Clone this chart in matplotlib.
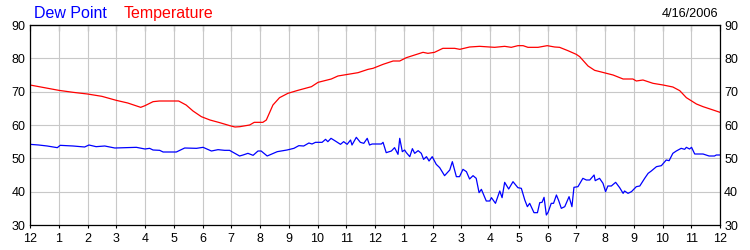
import matplotlib
matplotlib.use('Agg')
import matplotlib.pyplot as plt

plt.rcParams['font.family'] = ['Liberation Sans', 'DejaVu Sans']

# hours since midnight, degrees F
temp_hours = [0, 0.5, 1.0, 1.5, 2.0, 2.5, 3.0, 3.4, 3.85, 4.0, 4.28, 4.5, 5.17, 5.43, 5.67,
              5.96, 6.26, 6.6, 6.95, 7.13, 7.3, 7.64, 7.8, 8.1, 8.22, 8.45, 8.68, 8.97, 9.32,
              9.79, 10.02, 10.48, 10.71, 11.06, 11.41, 11.76, 11.93, 12.28, 12.63, 12.86, 13.09,
              13.38, 13.67, 13.84, 14.07, 14.36, 14.77, 14.95, 15.29, 15.64, 16.16, 16.51, 16.74,
              16.97, 17.15, 17.32, 17.67, 17.99, 18.25, 18.42, 18.71, 19.0, 19.12, 19.41, 19.64,
              19.87, 20.28, 20.63, 20.97, 21.09, 21.32, 21.67, 22.02, 22.36, 22.6, 22.83, 23.18,
              23.41, 23.76, 24.0]
temp_vals = [72.0, 71.2, 70.4, 69.8, 69.3, 68.6, 67.4, 66.6, 65.3, 65.8, 67.0, 67.2, 67.2, 66.0, 64.2,
             62.5, 61.5, 60.7, 59.8, 59.4, 59.5, 60.0, 60.8, 60.8, 61.5, 66.0, 68.2, 69.5, 70.4,
             71.5, 72.8, 73.8, 74.7, 75.2, 75.7, 76.7, 77.0, 78.2, 79.2, 79.2, 80.2,
             81.0, 81.8, 81.5, 81.8, 83.0, 83.0, 82.7, 83.4, 83.6, 83.3, 83.6, 83.3,
             83.8, 83.8, 83.3, 83.3, 83.8, 83.4, 83.3, 82.3, 81.2, 80.5, 77.7, 76.4,
             75.9, 75.0, 73.8, 73.8, 73.2, 73.5, 72.5, 72.0, 71.4, 70.3, 68.2, 66.3,
             65.5, 64.5, 63.8]

dew_hours = [0, 0.3, 0.6, 0.95, 1.05, 1.5, 1.9, 2.05, 2.3, 2.6, 2.95, 3.3, 3.7, 4.0, 4.16, 4.28,
             4.51, 4.63, 5.09, 5.38, 5.79, 6.02, 6.31, 6.54, 6.77, 6.94, 7.29, 7.41, 7.58, 7.76,
             7.93, 8.04, 8.25, 8.6, 8.94, 9.18, 9.35, 9.52, 9.7, 9.81, 9.93, 10.16, 10.28, 10.36,
             10.47, 10.62, 10.8, 10.91, 11.03, 11.15, 11.2, 11.35, 11.49, 11.61, 11.73, 11.81,
             11.9, 12.22, 12.28, 12.39, 12.57, 12.68, 12.8, 12.86, 12.95, 13.03, 13.09, 13.21,
             13.3, 13.38, 13.5, 13.61, 13.69, 13.79, 13.88, 13.99, 14.13, 14.25, 14.42, 14.6,
             14.69, 14.83, 14.94, 15.06, 15.18, 15.29, 15.41, 15.52, 15.62, 15.7, 15.87, 15.99,
             16.05, 16.19, 16.34, 16.42, 16.51, 16.65, 16.8, 16.97, 17.09, 17.21, 17.3, 17.38,
             17.53, 17.65, 17.73, 17.81, 17.88, 17.96, 18.02, 18.13, 18.21, 18.31, 18.39, 18.48,
             18.6, 18.75, 18.85, 18.92, 19.06, 19.23, 19.35, 19.47, 19.62, 19.66, 19.81, 19.93,
             20.02, 20.1, 20.22, 20.37, 20.51, 20.63, 20.68, 20.8, 20.92, 21.09, 21.21, 21.38,
             21.5, 21.61, 21.79, 21.96, 22.13, 22.23, 22.36, 22.48, 22.65, 22.77, 22.83, 22.94,
             23.01, 23.12, 23.41, 23.62, 23.81, 23.87, 24.0]
dew_vals = [54.2, 54.0, 53.7, 53.2, 53.9, 53.7, 53.4, 54.0, 53.5, 53.7, 53.1, 53.2, 53.3, 52.8, 53.0, 52.5,
            52.4, 51.9, 51.9, 53.1, 53.0, 53.3, 52.2, 52.6, 52.4, 52.4, 50.7, 51.0, 51.5, 50.9,
            52.2, 52.2, 50.7, 52.0, 52.5, 53.0, 53.8, 53.7, 54.6, 54.3, 54.8, 54.8, 55.7, 55.0,
            56.0, 55.2, 54.2, 55.0, 54.2, 55.5, 54.0, 56.3, 54.8, 54.5, 56.0, 54.0,
            54.3, 54.3, 54.8, 51.7, 52.2, 53.2, 51.2, 56.0, 52.0, 52.5, 51.7, 50.5,
            52.9, 51.5, 52.3, 51.5, 49.7, 50.5, 49.2, 50.5, 48.2, 47.2, 44.8, 46.5,
            49.0, 44.5, 44.5, 46.7, 46.0, 43.8, 44.8, 44.0, 39.7, 40.7, 37.2, 37.2,
            38.2, 36.5, 40.2, 38.2, 42.8, 40.8, 43.0, 41.2, 41.0, 37.5, 35.5, 36.5,
            33.7, 33.7, 36.7, 36.8, 38.3, 33.0, 33.8, 36.5, 36.5, 39.0, 37.3, 35.0,
            35.5, 38.5, 35.5, 41.3, 41.5, 44.0, 43.5, 43.5, 45.0, 43.3, 44.0, 42.5,
            40.0, 41.7, 41.7, 42.8, 41.2, 39.5, 40.2, 39.5, 40.0, 41.5, 41.7, 44.0,
            45.5, 46.2, 47.5, 47.8, 49.5, 49.3, 51.5, 52.2, 53.0, 52.7, 53.3, 52.8,
            53.3, 51.3, 51.3, 50.7, 50.7, 51.0, 51.0]

hour_labels = ['12'] + [str(h) for h in range(1, 12)] + ['12'] + [str(h) for h in range(1, 12)] + ['12']
y_ticks = [30, 40, 50, 60, 70, 80, 90]

fig = plt.figure(figsize=(7.5, 2.5), dpi=100)
ax = fig.add_axes([0.04, 0.1, 0.92, 0.8])

ax.plot(temp_hours, temp_vals, color='#ff0000', lw=0.9)
ax.plot(dew_hours, dew_vals, color='#0000ff', lw=0.9)

ax.set_xlim(0, 24)
ax.set_ylim(30, 90)
ax.set_xticks(range(25))
ax.set_xticklabels(hour_labels)
ax.set_yticks(y_ticks)
ax.grid(True, color='#c8c8c8', lw=0.8)
ax.set_axisbelow(True)

# bottom ticks point out, top ticks point in, no y tick marks
ax.tick_params(axis='x', direction='out', length=2.5, width=0.8, pad=3.5, labelsize=9)
ax.tick_params(axis='y', length=0, pad=3, labelsize=9, left=True, right=True,
               labelleft=True, labelright=True)
for s in ax.spines.values():
    s.set_color('black')
    s.set_linewidth(0.9)

top = ax.secondary_xaxis('top')
top.set_xticks(range(25))
top.tick_params(direction='in', length=4, width=0.8, labeltop=False)

fig.text(34 / 750, 1 - 18 / 250, 'Dew Point', color='#0000ff', fontsize=11.5, ha='left', va='baseline')
fig.text(124 / 750, 1 - 18 / 250, 'Temperature', color='#ff0000', fontsize=11.5, ha='left', va='baseline')
fig.text(718 / 750, 1 - 17 / 250, '4/16/2006', color='black', fontsize=9.2, ha='right', va='baseline')

fig.savefig('out.png', dpi=100)
